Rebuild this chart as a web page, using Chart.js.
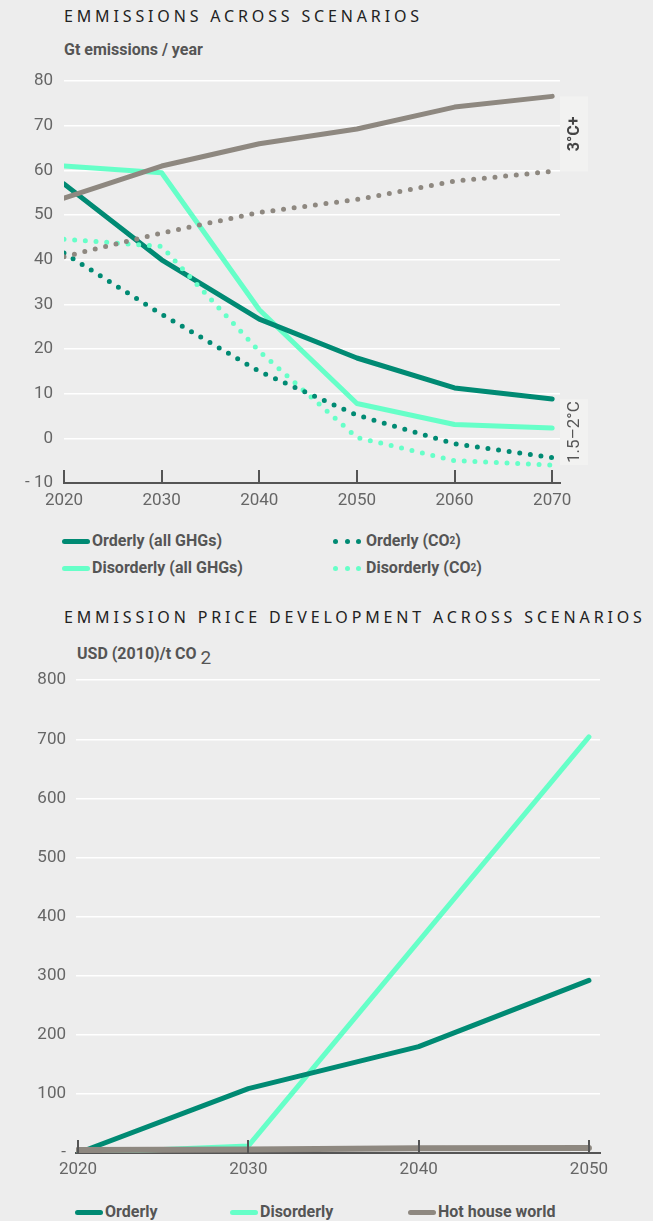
<!DOCTYPE html>
<html>
<head>
<meta charset="utf-8">
<script src="https://cdn.jsdelivr.net/npm/chart.js@4.4.1/dist/chart.umd.min.js"></script>
<style>
  html, body { margin:0; padding:0; background:#ededed; }
  body { width:653px; height:1221px; position:relative; overflow:hidden; font-family:'Roboto',sans-serif; }
  .title { position:absolute; left:64px; font-family:'Noto Sans',sans-serif; font-size:16px; letter-spacing:3.85px; color:#222; white-space:nowrap; line-height:20px; }
  .ytitle { position:absolute; font-weight:bold; font-size:16px; color:#555; white-space:nowrap; line-height:18px; }
  .cv { position:absolute; left:0; }
  .leg { position:absolute; display:flex; align-items:center; font-weight:bold; font-size:16px; color:#555; white-space:nowrap; line-height:18px; }
  .sw { display:inline-block; width:28px; height:5px; border-radius:3px; margin-right:2px; }
  .dots { display:inline-flex; width:28px; justify-content:space-between; margin-right:5px; }
  .dots i { display:block; width:5px; height:5px; border-radius:50%; }
  sub { font-size:10px; vertical-align:-4px; line-height:0; }
</style>
</head>
<body>
<div class="title" style="top:6px">EMMISSIONS ACROSS SCENARIOS</div>
<div class="ytitle" style="left:64px;top:41px">Gt emissions / year</div>
<canvas id="c1" class="cv" style="top:60px" width="653" height="460"></canvas>

<div class="leg" style="left:62px;top:532px"><span class="sw" style="background:#008a73"></span>Orderly (all GHGs)</div>
<div class="leg" style="left:62px;top:559px"><span class="sw" style="background:#66ffc8"></span>Disorderly (all GHGs)</div>
<div class="leg" style="left:333px;top:532px"><span class="dots"><i style="background:#008a73"></i><i style="background:#008a73"></i><i style="background:#008a73"></i></span>Orderly (CO<sub>2</sub>)</div>
<div class="leg" style="left:333px;top:559px"><span class="dots"><i style="background:#66ffc8"></i><i style="background:#66ffc8"></i><i style="background:#66ffc8"></i></span>Disorderly (CO<sub>2</sub>)</div>

<div class="title" style="top:607px">EMMISSION PRICE DEVELOPMENT ACROSS SCENARIOS</div>
<div class="ytitle" style="left:77px;top:644px">USD (2010)/t CO<span style="font-weight:normal;font-size:19px;position:relative;top:5px;margin-left:4px">2</span></div>
<canvas id="c2" class="cv" style="top:660px" width="653" height="530"></canvas>

<div class="leg" style="left:75px;top:1203px"><span class="sw" style="background:#008a73"></span>Orderly</div>
<div class="leg" style="left:230px;top:1203px"><span class="sw" style="background:#66ffc8"></span>Disorderly</div>
<div class="leg" style="left:408px;top:1203px"><span class="sw" style="background:#8e8880"></span>Hot house world</div>

<script>
// ---------- Chart 1 data ----------
const years1 = [2020, 2030, 2040, 2050, 2060, 2070];
const orderlyGHG    = [57, 40, 26.7, 18, 11.3, 8.8];
const disorderlyGHG = [61, 59.5, 28.8, 7.8, 3.1, 2.3];
const orderlyCO2    = [41.5, 27.8, 15, 5.2, -1.2, -4.3];
const disorderlyCO2 = [44.6, 43, 19.5, 0.2, -5, -6];
const hotGHG        = [53.8, 61, 66, 69.3, 74.2, 76.6];
const hotCO2        = [40.7, 46, 50.6, 53.5, 57.6, 59.8];
const yTicks1 = [-10, 0, 10, 20, 30, 40, 50, 60, 70, 80];
const xTicks1 = [2020, 2030, 2040, 2050, 2060, 2070];
const bandLabels = ['3°C+', '1.5–2°C'];

// ---------- Chart 2 data ----------
const years2 = [2020, 2030, 2040, 2050];
const priceOrderly    = [0, 109, 180, 292];
const priceDisorderly = [0, 12, 358, 704];
const priceHotHouse   = [5, 6, 8, 8.5];
const yTicks2 = [0, 100, 200, 300, 400, 500, 600, 700, 800];
const xTicks2 = [2020, 2030, 2040, 2050];

const C_DARK = '#008a73', C_MINT = '#66ffc8', C_GRAY = '#8e8880';
const FONT = "'Roboto',sans-serif";

function pts(xs, ys) { return xs.map((x, i) => ({x, y: ys[i]})); }
function solid(label, xs, ys, color, w) {
  return { label, data: pts(xs, ys), borderColor: color, borderWidth: w || 5, pointRadius: 0,
           borderCapStyle: 'round', borderJoinStyle: 'round', tension: 0, fill: false };
}
function dotted(label, xs, ys, color) {
  return { label, data: pts(xs, ys), borderColor: color, borderWidth: 5, pointRadius: 0,
           borderDash: [0, 10.7], borderCapStyle: 'round', borderJoinStyle: 'round', tension: 0, fill: false };
}

// inner tick marks on the x axis (pointing up)
const innerTicks = {
  id: 'innerTicks',
  afterDatasetsDraw(chart, args, opts) {
    const xs = chart.scales.x, ctx = chart.ctx, b = chart.chartArea.bottom;
    ctx.save();
    ctx.strokeStyle = '#555'; ctx.lineWidth = 2;
    opts.values.forEach(v => {
      const px = Math.round(xs.getPixelForValue(v));
      ctx.beginPath(); ctx.moveTo(px, b); ctx.lineTo(px, b - 13); ctx.stroke();
    });
    ctx.restore();
  }
};

// side band boxes with rotated labels (chart 1)
const bands = {
  id: 'bands',
  beforeDatasetsDraw(chart) {
    const ys = chart.scales.y, ctx = chart.ctx, ca = chart.chartArea;
    const last = a => a[a.length - 1];
    const groups = [
      { lab: bandLabels[0], vals: [last(hotGHG), last(hotCO2)], bold: true },
      { lab: bandLabels[1], vals: [last(orderlyGHG), last(disorderlyGHG), last(orderlyCO2), last(disorderlyCO2)], bold: false }
    ];
    ctx.save();
    groups.forEach(g => {
      const top = ys.getPixelForValue(Math.max(...g.vals));
      const bot = ys.getPixelForValue(Math.min(...g.vals));
      const x0 = ca.right, x1 = ca.right + 28;
      ctx.fillStyle = '#f2f2f1';
      ctx.fillRect(x0, top, x1 - x0, bot - top);
      ctx.save();
      ctx.translate((x0 + x1) / 2, (top + bot) / 2);
      ctx.rotate(-Math.PI / 2);
      ctx.fillStyle = g.bold ? '#444' : '#555';
      ctx.font = (g.bold ? 'bold 16px ' : '17px ') + FONT;
      ctx.textAlign = 'center'; ctx.textBaseline = 'middle';
      ctx.fillText(g.lab, 0, 1);
      ctx.restore();
    });
    ctx.restore();
  }
};

Chart.defaults.font.family = FONT;
Chart.defaults.animation = false;

new Chart(document.getElementById('c1'), {
  type: 'line',
  data: { datasets: [
    dotted('Hot house (CO2)', years1, hotCO2, C_GRAY),
    dotted('Orderly (CO2)', years1, orderlyCO2, C_DARK),
    dotted('Disorderly (CO2)', years1, disorderlyCO2, C_MINT),
    solid('Hot house (all GHGs)', years1, hotGHG, C_GRAY),
    solid('Orderly (all GHGs)', years1, orderlyGHG, C_DARK),
    solid('Disorderly (all GHGs)', years1, disorderlyGHG, C_MINT)
  ]},
  plugins: [innerTicks, bands],
  options: {
    responsive: false,
    layout: { padding: { top: 15, right: 93, left: 0, bottom: 0 } },
    plugins: { legend: { display: false }, tooltip: { enabled: false }, innerTicks: { values: xTicks1 } },
    scales: {
      x: {
        type: 'linear', min: 2020, max: 2070.8,
        afterBuildTicks: s => { s.ticks = xTicks1.map(v => ({value: v})); },
        afterFit: s => { s.height = 37; },
        grid: { display: false, drawTicks: false },
        border: { display: true, color: '#555', width: 2 },
        ticks: { color: '#666', font: { size: 17 }, padding: 8, maxRotation: 0, callback: v => String(v) }
      },
      y: {
        min: -10, max: 80,
        afterBuildTicks: s => { s.ticks = yTicks1.map(v => ({value: v})); },
        afterFit: s => { s.width = 64; },
        grid: { color: c => c.tick && c.tick.value === -10 ? 'rgba(0,0,0,0)' : '#ffffff', lineWidth: 1.5, drawTicks: false },
        border: { display: false },
        ticks: { color: '#666', font: { size: 17 }, padding: 11, callback: v => v === -10 ? '- 10' : String(v) }
      }
    }
  }
});

new Chart(document.getElementById('c2'), {
  type: 'line',
  data: { datasets: [
    solid('Hot house world', years2, priceHotHouse, C_GRAY, 6),
    solid('Orderly', years2, priceOrderly, C_DARK, 5),
    solid('Disorderly', years2, priceDisorderly, C_MINT, 5)
  ]},
  plugins: [innerTicks],
  options: {
    responsive: false,
    layout: { padding: { top: 17, right: 53, left: 0, bottom: 0 } },
    plugins: { legend: { display: false }, tooltip: { enabled: false }, innerTicks: { values: xTicks2 } },
    scales: {
      x: {
        type: 'linear', min: 2019.88, max: 2050.65,
        afterBuildTicks: s => { s.ticks = xTicks2.map(v => ({value: v})); },
        afterFit: s => { s.height = 37; },
        grid: { display: false, drawTicks: false },
        border: { display: true, color: '#555', width: 2 },
        ticks: { color: '#666', font: { size: 17 }, padding: 7, maxRotation: 0, callback: v => String(v) }
      },
      y: {
        min: 0, max: 800,
        afterBuildTicks: s => { s.ticks = yTicks2.map(v => ({value: v})); },
        afterFit: s => { s.width = 76; },
        grid: { color: c => c.tick && c.tick.value === 0 ? 'rgba(0,0,0,0)' : '#ffffff', lineWidth: 1.5, drawTicks: false },
        border: { display: false },
        ticks: { color: '#666', font: { size: 17 }, padding: 10, callback: v => v === 0 ? '-' : String(v) }
      }
    }
  }
});
</script>
</body>
</html>
